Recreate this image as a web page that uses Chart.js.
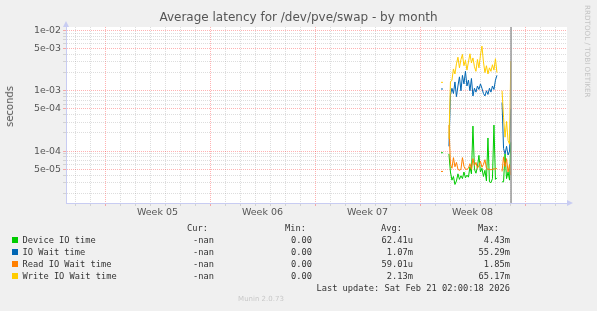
<!DOCTYPE html>
<html>
<head>
<meta charset="utf-8">
<script src="https://cdn.jsdelivr.net/npm/chart.js@4"></script>
<style>
  body { margin: 0; background: #F0F0F0; }
  #wrap { position: relative; width: 597px; height: 311px; overflow: hidden; }
  #wrap canvas { position: absolute; left: 0; top: 0; }
  #wrap div { position: absolute; white-space: pre; }
  .mono { font-family: 'DejaVu Sans Mono', monospace; font-size: 8.7px; line-height: 12px; color: #333; }
  .sq { width: 6px; height: 6px; }
</style>
</head>
<body>
<div id="wrap">
  <canvas id="grafico" width="597" height="311"></canvas>
  <div id="titulo" style="left:0;width:597px;top:10px;text-align:center;font:12px 'DejaVu Sans';color:#555">Average latency for /dev/pve/swap - by month</div>
  <div style="left:4px;top:86px;writing-mode:vertical-rl;transform:rotate(180deg);font:10px/12px 'DejaVu Sans';color:#555">seconds</div>
  <div style="left:583px;top:5px;writing-mode:vertical-rl;font:7.2px 'DejaVu Sans';color:#c4c4c4">RRDTOOL / TOBI OETIKER</div>
  <div id="legenda" style="left:0;top:0;width:597px;height:311px"></div>
  <div style="left:211px;width:100px;top:295px;text-align:center;font:7px 'DejaVu Sans';color:#c8c8c8">Munin 2.0.73</div>
</div>
<script>
// valores (x em dias, semana 05 começa em 0)
const days = [22.40, 22.53, 22.70,
  22.93, 23.03, 23.13, 23.23, 23.33, 23.43, 23.53, 23.63, 23.73, 23.83, 23.93,
  24.03, 24.13, 24.23, 24.33, 24.43, 24.53, 24.63, 24.73, 24.83, 24.93,
  25.03, 25.13, 25.23, 25.33, 25.43, 25.53, 25.63, 25.73, 25.83, 25.93,
  26.03, 26.13, 26.30,
  26.47, 26.57, 26.67, 26.77, 26.87, 26.97, 27.05]

const deviceIO = [9.4e-5, 9.4e-5, null,
  9e-5, 4.5e-5, 3.3e-5, 3.8e-5, 2.8e-5, 3.2e-5, 4.2e-5, 3.4e-5, 3.9e-5, 3.5e-5, 4.5e-5,
  3.6e-5, 4.0e-5, 3.7e-5, 5.5e-5, 4.2e-5, 2.6e-4, 5e-5, 4.3e-5, 5.5e-5, 8.5e-5,
  4.5e-5, 5.2e-5, 3.8e-5, 4.8e-5, 3.2e-5, 1.65e-4, 3.1e-5, 3.0e-5, 3.5e-5, 2.7e-4,
  3.4e-5, 3.6e-5, null,
  3.1e-5, 3.1e-5, 9e-5, 3.5e-5, 4.5e-5, 3.3e-5, 1.4e-4]

const ioWait = [1.07e-3, 1.07e-3, null,
  1.2e-4, 8.5e-4, 1.1e-3, 9e-4, 1.4e-3, 8e-4, 1.2e-3, 1.7e-3, 1.0e-3, 1.8e-3, 1.3e-3,
  2.1e-3, 1.2e-3, 1.5e-3, 1.0e-3, 1.6e-3, 8.2e-4, 1.1e-3, 9.5e-4, 1.2e-3, 1.05e-3,
  1.3e-3, 1.1e-3, 9e-4, 8.2e-4, 1.0e-3, 8.7e-4, 1.1e-3, 9.5e-4, 1.2e-3, 1.05e-3,
  1.5e-3, 1.8e-3, null,
  6.4e-4, 1.1e-4, 9e-5, 1.2e-4, 8.6e-5, 1.0e-4, 5e-4]

const readWait = [4.6e-5, 4.6e-5, null,
  2.7e-4, 6e-5, 5.2e-5, 7.8e-5, 5.5e-5, 6.5e-5, 5.0e-5, 4.8e-5, 5.0e-5, 7.8e-5, 5.6e-5,
  5.0e-5, 5.0e-5, 5.2e-5, 6.2e-5, 5.0e-5, 7.5e-5, 5.8e-5, 6.5e-5, 5.2e-5, 5.8e-5,
  6.8e-5, 5.4e-5, 6.0e-5, 7.2e-5, 5.2e-5, 5.0e-5, 5.0e-5, 4.9e-5, 5.0e-5, 5.1e-5,
  5.0e-5, 5.2e-5, null,
  4.6e-5, 8e-5, 5.5e-5, 7.5e-5, 4.5e-5, 6e-5, 4.0e-5]

const writeWait = [1.38e-3, 1.38e-3, null,
  1.6e-4, 1.4e-3, 1.5e-3, 2.3e-3, 1.9e-3, 2.8e-3, 3.6e-3, 2.4e-3, 3.3e-3, 4.0e-3, 2.6e-3,
  3.2e-3, 2.2e-3, 3.0e-3, 4.1e-3, 2.9e-3, 3.5e-3, 2.5e-3, 2.1e-3, 3.3e-3, 2.4e-3,
  3.9e-3, 5.5e-3, 3.0e-3, 2.0e-3, 2.6e-3, 1.9e-3, 2.4e-3, 2.1e-3, 2.7e-3, 2.2e-3,
  3.4e-3, 2.0e-3, null,
  1.0e-3, 3.6e-4, 1.7e-4, 3.1e-4, 1.5e-4, 1.3e-4, 3.1e-3]

const nowDay = 27.07
const yMin = 1.38e-5
const yMax = 1.14e-2

const weekStarts = [0, 7, 14, 21, 28]
const weekLabels = ['Week 05', 'Week 06', 'Week 07', 'Week 08']
const weekMiddles = [3.5, 10.5, 17.5, 24.5]
const gridDays = [-2, -1, 0, 1, 2, 3, 4, 5, 6, 7, 8, 9, 10, 11, 12, 13, 14, 15, 16, 17, 18, 19, 20, 21, 22, 23, 24, 25, 26, 27, 28, 29, 30]
const yTicks = [2e-5, 3e-5, 4e-5, 5e-5, 6e-5, 7e-5, 8e-5, 9e-5,
  1e-4, 2e-4, 3e-4, 4e-4, 5e-4, 6e-4, 7e-4, 8e-4, 9e-4,
  1e-3, 2e-3, 3e-3, 4e-3, 5e-3, 6e-3, 7e-3, 8e-3, 9e-3, 1e-2]

const seriesNames = ['Device IO time', 'IO Wait time', 'Read IO Wait time', 'Write IO Wait time']
const seriesColors = ['#00CC00', '#0066B3', '#FF8000', '#FFCC00']
const curValues = ['-nan', '-nan', '-nan', '-nan']
const minValues = ['0.00', '0.00', '0.00', '0.00']
const avgValues = ['62.41u', '1.07m', '59.01u', '2.13m']
const maxValues = ['4.43m', '55.29m', '1.85m', '65.17m']
const lastUpdate = 'Last update: Sat Feb 21 02:00:18 2026'

// legenda em HTML
let leg = document.getElementById('legenda')
let html = ''
const cols = [['Cur:', 208], ['Min:', 306], ['Avg:', 402], ['Max:', 499]]
cols.forEach(c => {
  html += `<div class="mono" style="left:${c[1] - 60}px;width:60px;text-align:right;top:222px">${c[0]}</div>`
})
seriesNames.forEach((n, i) => {
  let top = 234 + i * 12
  html += `<div class="sq" style="left:12px;top:${top + 3}px;background:${seriesColors[i]}"></div>`
  html += `<div class="mono" style="left:22.5px;top:${top}px">${n}</div>`
  ;[[curValues[i], 214], [minValues[i], 312], [avgValues[i], 413], [maxValues[i], 510]].forEach(v => {
    html += `<div class="mono" style="left:${v[1] - 80}px;width:80px;text-align:right;top:${top}px">${v[0]}</div>`
  })
})
html += `<div class="mono" style="left:210px;width:300px;text-align:right;top:282px">${lastUpdate}</div>`
leg.innerHTML = html

const corMenor = 'rgba(143,143,143,0.3)'
const corMaior = 'rgba(255,0,0,0.3)'
const corEixo = '#C8CCF2'

function serie(valores) {
  return days.map((d, i) => ({ x: d, y: valores[i] }))
}

const datasets = [
  { label: seriesNames[0], data: serie(deviceIO), borderColor: seriesColors[0], order: 4 },
  { label: seriesNames[1], data: serie(ioWait), borderColor: seriesColors[1], order: 3 },
  { label: seriesNames[2], data: serie(readWait), borderColor: seriesColors[2], order: 2 },
  { label: seriesNames[3], data: serie(writeWait), borderColor: seriesColors[3], order: 1 },
  { label: 'now', data: [{ x: nowDay, y: yMin }, { x: nowDay, y: yMax }], borderColor: '#999999', borderWidth: 1.5, order: 0 },
]

const fundo = {
  id: 'fundo',
  beforeDraw(chart) {
    const a = chart.chartArea
    const c = chart.ctx
    c.save()
    c.fillStyle = '#fff'
    c.fillRect(a.left, a.top, a.right - a.left, a.bottom - a.top)
    c.restore()
  },
  afterDraw(chart) {
    // setas dos eixos
    const a = chart.chartArea
    const c = chart.ctx
    c.save()
    c.fillStyle = corEixo
    c.beginPath()
    c.moveTo(a.left - 3, a.top)
    c.lineTo(a.left + 3, a.top)
    c.lineTo(a.left, a.top - 6)
    c.fill()
    c.beginPath()
    c.moveTo(a.right, a.bottom - 3)
    c.lineTo(a.right, a.bottom + 3)
    c.lineTo(a.right + 6, a.bottom)
    c.fill()
    c.restore()
  }
}

function mantissa(v) {
  return Math.round(v / Math.pow(10, Math.floor(Math.log10(v) + 1e-9)))
}

let ctx = document.getElementById('grafico')

const config = {
  type: 'line',
  data: { datasets },
  options: {
    responsive: false,
    animation: false,
    spanGaps: false,
    elements: {
      line: { borderWidth: 1, tension: 0 },
      point: { radius: 0 }
    },
    layout: { padding: { top: 27, right: 30, left: 0, bottom: 0 } },
    plugins: { legend: { display: false }, tooltip: { enabled: false } },
    scales: {
      x: {
        type: 'linear',
        min: -2.6,
        max: 30.8,
        afterFit: s => { s.height = 108 },
        afterBuildTicks: s => {
          s.ticks = gridDays.concat(weekMiddles).sort((a, b) => a - b).map(v => ({ value: v }))
        },
        ticks: {
          autoSkip: false,
          maxRotation: 0,
          padding: 1,
          color: '#555',
          font: { family: 'DejaVu Sans', size: 9.5 },
          callback: v => {
            let i = weekMiddles.indexOf(v)
            return i >= 0 ? weekLabels[i] : ''
          }
        },
        grid: {
          tickLength: 3,
          color: c => weekMiddles.includes(c.tick.value) ? 'transparent' : (weekStarts.includes(c.tick.value) ? corMaior : corMenor),
          tickColor: c => weekMiddles.includes(c.tick.value) ? 'transparent' : (weekStarts.includes(c.tick.value) ? corMaior : corMenor)
        },
        border: { color: corEixo, dash: [1, 1] }
      },
      y: {
        type: 'logarithmic',
        min: yMin,
        max: yMax,
        afterFit: s => { s.width = 66 },
        afterBuildTicks: s => {
          s.ticks = yTicks.map(v => ({ value: v }))
        },
        ticks: {
          autoSkip: false,
          padding: 2,
          color: '#555',
          font: { family: 'DejaVu Sans', size: 9.4 },
          callback: v => {
            let m = mantissa(v)
            if (m !== 1 && m !== 5) return ''
            let e = Math.floor(Math.log10(v) + 1e-9)
            return m + 'e-' + String(-e).padStart(2, '0')
          }
        },
        grid: {
          tickLength: 3,
          color: c => [1, 5].includes(mantissa(c.tick.value)) ? corMaior : corMenor,
          tickColor: c => [1, 5].includes(mantissa(c.tick.value)) ? corMaior : corMenor
        },
        border: { color: corEixo, dash: [1, 1] }
      }
    }
  },
  plugins: [fundo]
}

const graph = new Chart(ctx, config)
</script>
</body>
</html>
